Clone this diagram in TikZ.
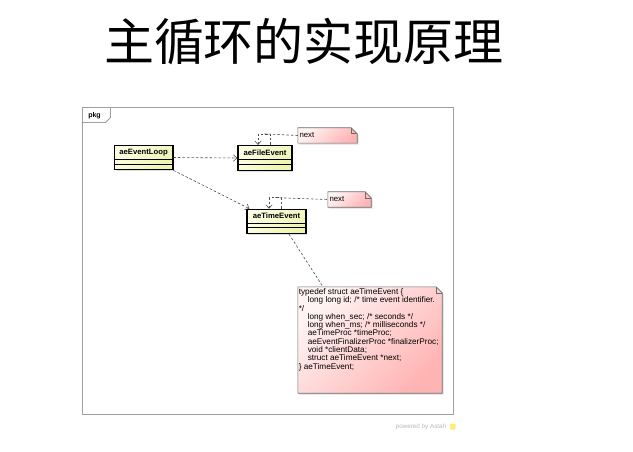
\documentclass[tikz,border=0pt]{standalone}
\usepackage{fontspec}
\setmainfont{Liberation Sans}
\newfontfamily\cjk{Noto Sans CJK SC}
\usetikzlibrary{arrows.meta,shadows,calc}
\definecolor{clsL}{HTML}{FFFFE6}
\definecolor{clsR}{HTML}{EDF3B0}
\definecolor{noteL}{HTML}{FFF4F4}
\definecolor{noteR}{HTML}{FFB4B4}
\definecolor{frameC}{HTML}{A0A0A0}
\definecolor{depC}{HTML}{505050}
\newcommand\umlnote[4]{%
  \node[minimum width=#3, minimum height=#4, inner sep=0pt] (#1) at #2 {};
  \path[notefill] (#1.south west) -- (#1.north west) -- ([xshift=-6pt]#1.north east)
     -- ([yshift=-6pt]#1.north east) -- (#1.south east) -- cycle;
  \draw[notefold] ([xshift=-6pt]#1.north east) -- ([xshift=-6pt,yshift=-6pt]#1.north east)
     -- ([yshift=-6pt]#1.north east);
}
\begin{document}
\begin{tikzpicture}[x=1pt,y=-1pt,
  clsbox/.style={draw=black, line width=1.3pt, left color=clsL, right color=clsR,
     shading angle=45, inner sep=0pt,
     drop shadow={shadow xshift=1.3pt,shadow yshift=-1.3pt,opacity=.25}},
  comp/.style={black, line width=0.7pt},
  clsname/.style={font=\bfseries\fontsize{7.7}{8}\selectfont, inner sep=0pt},
  notefill/.style={draw=gray!85!black, line width=0.6pt, left color=noteL, right color=noteR,
     shading angle=45, drop shadow={shadow xshift=1.5pt,shadow yshift=-1.5pt,opacity=.25}},
  notefold/.style={draw=gray!85!black, line width=0.6pt},
  notetext/.style={font=\fontsize{7.8}{8}\selectfont, inner sep=0pt},
  dep/.style={depC, line width=0.6pt, dash pattern=on 2.5pt off 2pt,
     -{Straight Barb[length=3.5pt,width=6.5pt]}},
  noteline/.style={depC, line width=0.6pt, dash pattern=on 2.5pt off 2pt}]
\useasboundingbox (0,0) rectangle (633,452);
\fill[white] (0,0) rectangle (633,452);

% title
\node[font=\cjk\fontsize{50}{50}\selectfont, inner sep=0pt] (title) at (304,41.5) {主循环的实现原理};

% frame
\node[draw=frameC, line width=1pt, minimum width=371pt, minimum height=306pt, inner sep=0pt,
  drop shadow={shadow xshift=1.2pt,shadow yshift=-1.2pt,opacity=.15}, fill=white] (frame) at (267.5,261) {};
\draw[frameC, line width=0.8pt] ([yshift=-15pt]frame.north west) -- ++(24,0) -- ++(5,-5) -- ++(0,-10);
\node[font=\bfseries\fontsize{7}{7}\selectfont, inner sep=0pt] (pkg) at (94.5,116) {pkg};

% notes
\umlnote{n1}{(327.5,135.5)}{59pt}{15pt}
\node[notetext, anchor=west] (n1t) at ([xshift=1.5pt,yshift=0.5pt]n1.west) {next};
\umlnote{n2}{(349.5,199.5)}{43pt}{15pt}
\node[notetext, anchor=west] (n2t) at ([xshift=1.5pt,yshift=0.5pt]n2.west) {next};
\umlnote{n3}{(370,340)}{144pt}{106pt}
\node[anchor=north west, align=left, font=\fontsize{8.2}{8.3}\selectfont, inner sep=0pt] (n3t)
  at ([shift={(0.8,1.5)}]n3.north west) {%
typedef struct aeTimeEvent \{\\
\hspace*{9pt}long long id; /* time event identifier.\\
*/\\
\hspace*{9pt}long when\_sec; /* seconds */\\
\hspace*{9pt}long when\_ms; /* milliseconds */\\
\hspace*{9pt}aeTimeProc *timeProc;\\
\hspace*{9pt}aeEventFinalizerProc *finalizerProc;\\
\hspace*{9pt}void *clientData;\\
\hspace*{9pt}struct aeTimeEvent *next;\\
\} aeTimeEvent;};

% classes
\node[clsbox, minimum width=58.5pt, minimum height=24.4pt] (loop) at (143.6,157.5) {};
\draw[comp] ([yshift=-14.8pt]loop.north west) -- ([yshift=-14.8pt]loop.north east);
\draw[comp] ([yshift=-19.3pt]loop.north west) -- ([yshift=-19.3pt]loop.north east);
\node[clsname] (loopt) at ([yshift=-8pt]loop.north) {aeEventLoop};

\node[clsbox, minimum width=54pt, minimum height=25pt] (file) at (265,158) {};
\draw[comp] ([yshift=-15pt]file.north west) -- ([yshift=-15pt]file.north east);
\draw[comp] ([yshift=-19.8pt]file.north west) -- ([yshift=-19.8pt]file.north east);
\node[clsname] (filet) at ([yshift=-8pt]file.north) {aeFileEvent};

\node[clsbox, minimum width=59pt, minimum height=24.2pt] (time) at (276.5,221.4) {};
\draw[comp] ([yshift=-14.3pt]time.north west) -- ([yshift=-14.3pt]time.north east);
\draw[comp] ([yshift=-18.8pt]time.north west) -- ([yshift=-18.8pt]time.north east);
\node[clsname] (timet) at ([yshift=-7.5pt]time.north) {aeTimeEvent};

% connectors
\draw[dep] (loop.east) -- (file.west);
\draw[dep] (loop.south east) -- ([xshift=3pt]time.north west);

\draw[dep] ([xshift=5pt]file.north) -- ++(0,-11) -- ++(-12,0) -- ([xshift=-7pt]file.north);
\coordinate (fl) at ([shift={(-1,-11)}]file.north);
\draw[noteline] (fl) -- (n1.west);

\draw[dep] ([xshift=4.5pt]time.north) -- ++(0,-11) -- ++(-12,0) -- ([xshift=-7.5pt]time.north);
\coordinate (tl) at ([shift={(-1.5,-11)}]time.north);
\draw[noteline] (tl) -- (n2.west);

\draw[noteline] ([xshift=12.5pt]time.south) -- ([xshift=-47pt]n3.north);

% footer
\node[font=\fontsize{6.3}{7}\selectfont, text=gray!55, inner sep=0pt] (pw) at (421,426.5) {powered by Astah};
\fill[yellow!80!orange, opacity=.55, rounded corners=0.8pt] (450,423.5) rectangle (455.5,429.5);
\end{tikzpicture}
\end{document}
